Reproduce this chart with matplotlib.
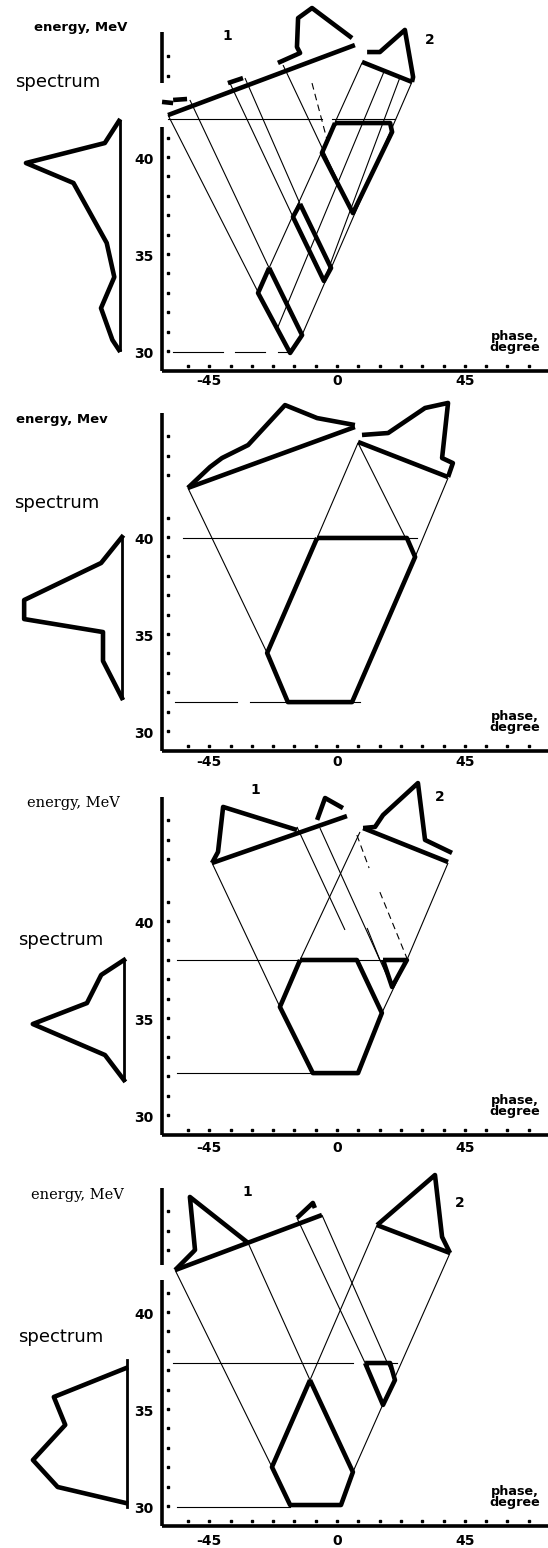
import matplotlib
matplotlib.use("Agg")
import matplotlib.pyplot as plt
import numpy as np

W, H = 548, 1548

# phase scale shared by the panels: pixel of 0 deg and pixels per degree, pixels per MeV
X0, SX = 337, 2.84
SY = 19.4

phase_ticks = [-45, 0, 45]
energy_ticks = [30, 35, 40]
phase_dots = np.arange(-52.5, 68, 7.5)
axis_phase = -61.6
dot_phase = -59.5
axis_energy = 28.95
dot_energy = 29.25

# ---------------- panel 1 ----------------
p1_energy_dots = list(range(30, 42)) + [44.2, 45.2]
p1_axis_spans = [(axis_energy, 41.55), (43.81, 46.44)]
p1_bunch1 = [(-59.5, 42.16), (6.3, 45.77)]
p1_dist1 = [
    [(-61.6, 42.84), (-57.7, 42.78)],
    [(-57.7, 42.94), (-52.8, 42.99)],
    [(-38.4, 43.81), (-33.1, 44.07)],
    [(-20.8, 44.85), (-13.0, 45.36), (-14.1, 45.67), (-13.7, 47.16), (-8.8, 47.68), (5.3, 46.13)],
]
p1_bunch2 = [(8.8, 44.90), (26.4, 43.87)]
p1_dist2 = [(10.6, 45.41), (15.1, 45.41), (23.9, 46.55), (26.8, 44.12), (26.4, 43.87)]
p1_level_top = 41.96
p1_level_top_spans = [(-59.5, -5.3), (-1.8, 20.4)]
p1_level_bottom = 29.95
p1_level_bottom_spans = [(-57.7, -40.1), (-35.9, -25.4), (-20.8, -17.6)]
p1_cells = [
    [(-0.7, 41.75), (18.7, 41.75), (19.4, 41.29), (5.6, 37.11), (-5.3, 40.21)],
    [(-13.0, 37.58), (-2.1, 34.28), (-4.6, 33.61), (-15.5, 36.91)],
    [(-23.9, 34.28), (-27.8, 32.99), (-16.5, 29.9), (-12.3, 30.82)],
]
p1_rays = [
    [(-59.5, 42.16), (-27.8, 33.04)],
    [(-51.8, 42.94), (-23.9, 34.28)],
    [(-37.7, 43.81), (-15.5, 36.91)],
    [(-32.4, 44.07), (-13.0, 37.58)],
    [(-19.0, 44.74), (5.6, 37.11)],
    [(8.8, 44.85), (-23.9, 34.28)],
    [(16.5, 44.38), (-20.8, 31.24)],
    [(22.2, 44.12), (-4.6, 33.61)],
    [(26.4, 43.87), (-12.0, 30.93)],
]
p1_dashed = [[(-8.8, 43.81), (-3.5, 40.88)]]
p1_spec_energy = [41.86, 40.72, 39.69, 38.66, 35.57, 33.81, 32.21, 30.57, 30.05]
p1_spec_count = [0.01, 0.16, 0.99, 0.49, 0.14, 0.06, 0.20, 0.08, 0.01]

# ---------------- panel 2 ----------------
p2_energy_dots = list(range(30, 42)) + [43.2, 44.2, 45.2]
p2_axis_spans = [(axis_energy, 46.39)]
p2_bunch1 = [(-52.5, 42.53), (6.3, 45.67)]
p2_dist1 = [[(-52.5, 42.53), (-44.7, 43.61), (-40.5, 44.07), (-31.3, 44.74),
             (-18.3, 46.80), (-7.0, 46.13), (6.3, 45.77)]]
p2_bunch2 = [(7.4, 44.90), (39.1, 43.09)]
p2_dist2 = [(8.8, 45.26), (18.0, 45.36), (31.0, 46.65), (39.1, 46.91),
            (37.0, 44.07), (40.8, 43.81), (39.1, 43.09)]
p2_level_top = 39.95
p2_level_top_spans = [(-54.2, 28.2)]
p2_level_bottom = 31.49
p2_level_bottom_spans = [(-57.0, -35.2), (-30.6, 8.1)]
p2_cells = [[(-7.0, 39.95), (24.6, 39.95), (27.5, 38.97), (5.3, 31.49), (-17.3, 31.49), (-24.6, 34.02)]]
p2_rays = [
    [(-52.5, 42.53), (-24.6, 34.02)],
    [(7.4, 44.85), (27.5, 38.97)],
    [(39.1, 43.04), (27.5, 38.97)],
    [(7.4, 44.85), (-7.0, 39.95)],
]
p2_dashed = []
p2_spec_energy = [40.0, 38.66, 36.75, 35.77, 35.10, 33.61, 31.70]
p2_spec_count = [0.0, 0.22, 1.03, 1.03, 0.20, 0.20, 0.0]

# ---------------- panel 3 ----------------
p3_energy_dots = list(range(30, 42)) + [43.2, 44.2, 45.2]
p3_axis_spans = [(axis_energy, 46.39)]
p3_bunch1 = [(-44.0, 42.99), (3.5, 45.41)]
p3_dist1 = [
    [(-44.0, 42.99), (-41.9, 43.56), (-40.1, 45.88), (-14.1, 44.69)],
    [(-7.0, 45.21), (-4.2, 46.34), (2.1, 45.82)],
]
p3_bunch2 = [(9.2, 44.79), (39.1, 43.04)]
p3_dist2 = [(9.2, 44.79), (13.4, 44.85), (16.2, 45.46), (28.5, 47.11), (31.0, 44.18), (40.5, 43.51)]
p3_level_top = 37.99
p3_level_top_spans = [(-56.3, 25.0)]
p3_level_bottom = 32.16
p3_level_bottom_spans = [(-56.3, -8.5)]
p3_cells = [
    [(-13.0, 37.99), (7.0, 37.99), (15.8, 35.26), (7.4, 32.16), (-8.5, 32.16), (-20.1, 35.57)],
    [(16.2, 37.99), (24.6, 37.99), (19.4, 36.60)],
]
p3_rays = [
    [(-44.0, 42.99), (-20.1, 35.57)],
    [(-14.1, 44.85), (2.8, 39.54)],
    [(10.6, 39.64), (15.1, 37.99)],
    [(-6.0, 44.79), (19.4, 36.60)],
    [(8.1, 44.59), (-13.0, 37.99)],
    [(39.1, 42.99), (24.6, 37.99)],
    [(24.6, 37.99), (15.8, 35.26)],
]
p3_dashed = [[(7.0, 44.43), (11.3, 42.73)], [(15.1, 41.49), (24.6, 38.09)]]
p3_spec_energy = [37.99, 37.22, 35.77, 34.69, 33.09, 31.80]
p3_spec_count = [0.0, 0.24, 0.39, 0.96, 0.20, 0.0]

# ---------------- panel 4 ----------------
p4_energy_dots = list(range(30, 42)) + [43.2, 44.2, 45.2]
p4_axis_spans = [(axis_energy, 41.65), (42.42, 46.39)]
p4_bunch1 = [(-57.0, 42.16), (-5.3, 45.0)]
p4_dist1 = [
    [(-57.0, 42.16), (-50.7, 43.09), (-50.0, 43.20), (-51.8, 45.93), (-31.3, 43.56)],
    [(-14.1, 44.85), (-8.5, 45.62), (-7.8, 45.36)],
]
p4_bunch2 = [(14.1, 44.48), (39.8, 43.04)]
p4_dist2 = [(14.1, 44.48), (34.5, 47.06), (37.0, 43.87), (39.8, 43.04)]
p4_level_top = 37.37
p4_level_top_spans = [(-57.7, 5.6), (18.7, 21.1)]
p4_level_bottom = 29.95
p4_level_bottom_spans = [(-56.3, -16.5)]
p4_cells = [
    [(-9.5, 36.49), (5.6, 31.75), (1.4, 30.05), (-16.5, 30.05), (-22.9, 32.01)],
    [(9.9, 37.37), (18.7, 37.37), (20.4, 36.49), (16.2, 35.21)],
]
p4_rays = [
    [(-57.0, 42.16), (-22.9, 32.01)],
    [(-31.3, 43.56), (-9.5, 36.49)],
    [(-14.1, 44.85), (9.9, 37.37)],
    [(-5.3, 45.0), (20.4, 36.49)],
    [(14.1, 44.48), (-9.5, 36.49)],
    [(39.8, 43.04), (5.6, 31.75)],
]
p4_dashed = []
p4_spec_energy = [37.11, 35.62, 34.18, 32.37, 30.98, 30.15]
p4_spec_count = [0.01, 0.77, 0.65, 0.99, 0.73, 0.01]

# layout of each panel in pixels: band top/bottom, pixel row of 30 MeV, spectrum base column
panels = [
    dict(top=0, bottom=390, e30=351, base=120, label="energy, MeV", serif=False, lab_xy=(81, 28),
         spec_xy=(58, 82), nums=[(227, 36), (430, 40)], base_span=(30.05, 41.86), tick_dy=10,
         energy_dots=p1_energy_dots, axis_spans=p1_axis_spans, bunch1=p1_bunch1, dist1=p1_dist1,
         bunch2=p1_bunch2, dist2=p1_dist2, lt=p1_level_top, lts=p1_level_top_spans,
         lb=p1_level_bottom, lbs=p1_level_bottom_spans, cells=p1_cells, rays=p1_rays,
         dashed=p1_dashed, se=p1_spec_energy, sc=p1_spec_count),
    dict(top=390, bottom=775, e30=731, base=122, label="energy, Mev", serif=False, lab_xy=(62, 420),
         spec_xy=(57, 503), nums=[], base_span=(31.70, 40.0), tick_dy=11,
         energy_dots=p2_energy_dots, axis_spans=p2_axis_spans, bunch1=p2_bunch1, dist1=p2_dist1,
         bunch2=p2_bunch2, dist2=p2_dist2, lt=p2_level_top, lts=p2_level_top_spans,
         lb=p2_level_bottom, lbs=p2_level_bottom_spans, cells=p2_cells, rays=p2_rays,
         dashed=p2_dashed, se=p2_spec_energy, sc=p2_spec_count),
    dict(top=775, bottom=1160, e30=1115, base=124, label="energy, MeV", serif=True, lab_xy=(73, 803),
         spec_xy=(61, 940), nums=[(255, 790), (440, 797)], base_span=(31.80, 37.99), tick_dy=13,
         energy_dots=p3_energy_dots, axis_spans=p3_axis_spans, bunch1=p3_bunch1, dist1=p3_dist1,
         bunch2=p3_bunch2, dist2=p3_dist2, lt=p3_level_top, lts=p3_level_top_spans,
         lb=p3_level_bottom, lbs=p3_level_bottom_spans, cells=p3_cells, rays=p3_rays,
         dashed=p3_dashed, se=p3_spec_energy, sc=p3_spec_count),
    dict(top=1160, bottom=1548, e30=1506, base=127, label="energy, MeV", serif=True, lab_xy=(77, 1195),
         spec_xy=(61, 1337), nums=[(247, 1192), (460, 1203)], base_span=(29.95, 37.53), tick_dy=15,
         energy_dots=p4_energy_dots, axis_spans=p4_axis_spans, bunch1=p4_bunch1, dist1=p4_dist1,
         bunch2=p4_bunch2, dist2=p4_dist2, lt=p4_level_top, lts=p4_level_top_spans,
         lb=p4_level_bottom, lbs=p4_level_bottom_spans, cells=p4_cells, rays=p4_rays,
         dashed=p4_dashed, se=p4_spec_energy, sc=p4_spec_count),
]

THICK = 3.3
THIN = 0.8


def draw(ax, pts, lw, ls="-", closed=False):
    x = [p[0] for p in pts]
    y = [p[1] for p in pts]
    if closed:
        x.append(x[0])
        y.append(y[0])
    ax.plot(x, y, color="black", lw=lw, ls=ls, clip_on=False, solid_capstyle="butt")


fig = plt.figure(figsize=(W / 100, H / 100), dpi=100)

for p in panels:
    h = (p["bottom"] - p["top"]) / H
    y0 = 1 - p["bottom"] / H
    ylim = (30 + (p["e30"] - p["bottom"]) / SY, 30 + (p["e30"] - p["top"]) / SY)

    ax = fig.add_axes([0, y0, 1, h])
    ax.set_xlim(-X0 / SX, (W - X0) / SX)
    ax.set_ylim(*ylim)
    ax.axis("off")

    # axes with dotted scales
    for lo, hi in p["axis_spans"]:
        ax.plot([axis_phase, axis_phase], [lo, hi], color="black", lw=2.6, solid_capstyle="butt")
    ax.plot([axis_phase, (W - X0) / SX], [axis_energy, axis_energy], color="black", lw=2.6,
            solid_capstyle="butt", clip_on=False)
    ax.plot(np.full(len(p["energy_dots"]), dot_phase), p["energy_dots"], "s", color="black", ms=2.1)
    ax.plot(phase_dots, np.full(len(phase_dots), dot_energy), "s", color="black", ms=2.1)

    for t in phase_ticks:
        ax.text(t, axis_energy - p["tick_dy"] / SY, str(t), ha="center", va="center",
                fontsize=10, fontweight="bold", family="DejaVu Sans")
    for t in energy_ticks:
        ax.text(-64.6, t - 0.15, str(t), ha="right", va="center",
                fontsize=10, fontweight="bold", family="DejaVu Sans")
    ax.text(62.7, axis_energy + 29 / SY, "phase,\ndegree", ha="center", va="center",
            fontsize=9.2, fontweight="bold", family="DejaVu Sans", linespacing=0.78)

    # initial bunches and their distributions
    draw(ax, p["bunch1"], THICK)
    for seg in p["dist1"]:
        draw(ax, seg, THICK)
    draw(ax, p["bunch2"], THICK)
    draw(ax, p["dist2"], THICK)

    # energy levels
    for a, b in p["lts"]:
        ax.plot([a, b], [p["lt"], p["lt"]], color="black", lw=THIN)
    for a, b in p["lbs"]:
        ax.plot([a, b], [p["lb"], p["lb"]], color="black", lw=THIN)

    for r in p["rays"]:
        draw(ax, r, THIN)
    for r in p["dashed"]:
        draw(ax, r, THIN, ls=(0, (6, 4)))
    for c in p["cells"]:
        draw(ax, c, THICK, closed=True)

    # spectrum on the left
    sax = fig.add_axes([0, y0, 160 / W, h])
    sax.set_xlim(p["base"] / 95, (p["base"] - 160) / 95)
    sax.set_ylim(*ylim)
    sax.axis("off")
    sax.plot(p["sc"], p["se"], color="black", lw=THICK, clip_on=False)
    sax.plot([0, 0], list(p["base_span"]), color="black", lw=2.0, clip_on=False)

    # labels
    lx, ly = p["lab_xy"]
    if p["serif"]:
        fig.text(lx / W, 1 - ly / H, p["label"], ha="center", va="center", fontsize=10.5,
                 family="DejaVu Serif")
    else:
        fig.text(lx / W, 1 - ly / H, p["label"], ha="center", va="center", fontsize=9.5,
                 fontweight="bold", family="DejaVu Sans")
    sx_, sy_ = p["spec_xy"]
    fig.text(sx_ / W, 1 - sy_ / H, "spectrum", ha="center", va="center", fontsize=13,
             family="DejaVu Sans")
    for i, (nx, ny) in enumerate(p["nums"]):
        fig.text(nx / W, 1 - ny / H, str(i + 1), ha="center", va="center", fontsize=10,
                 fontweight="bold", family="DejaVu Sans")

fig.savefig("out.png", dpi=100, facecolor="white")
